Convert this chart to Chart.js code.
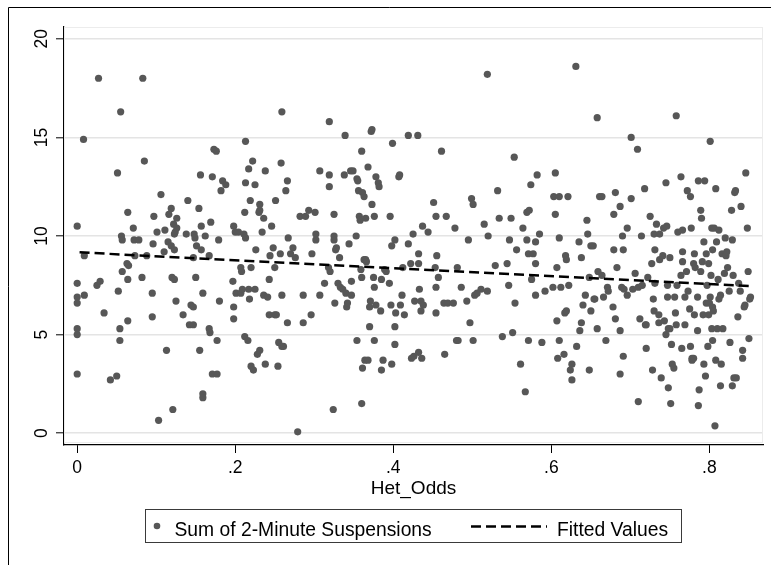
<!DOCTYPE html>
<html lang="en">
<head>
<meta charset="utf-8">
<title>Het_Odds</title>
<script src="https://cdn.jsdelivr.net/npm/chart.js@4.4.1/dist/chart.umd.min.js"></script>
<style>
  html, body { margin: 0; padding: 0; background: #fff; }
  #wrap { position: relative; width: 771px; height: 565px; }
</style>
</head>
<body>
<div id="wrap"><canvas id="scatterChart" width="771" height="565"></canvas></div>
<script>
// Het_Odds (x) for each observation
const hetOdds = [
    0.000, 0.008, 0.027, 0.000, 0.000, 0.000, 0.000, 0.000, 0.000, 0.009, 0.009, 0.025, 0.029, 0.034, 0.042,
    0.050, 0.051, 0.052, 0.054, 0.054, 0.055, 0.056, 0.057, 0.057, 0.063, 0.064, 0.064, 0.064, 0.065,
    0.071, 0.072, 0.078, 0.073, 0.082, 0.083, 0.085, 0.088, 0.095, 0.095, 0.096, 0.097, 0.101, 0.103, 0.106,
    0.110, 0.111, 0.113, 0.115, 0.116, 0.119, 0.119, 0.120, 0.121, 0.122, 0.123, 0.123, 0.123, 0.124, 0.125,
    0.126, 0.126, 0.134, 0.138, 0.140, 0.142, 0.144, 0.147, 0.147, 0.147, 0.148, 0.149, 0.150, 0.151,
    0.154, 0.155, 0.156, 0.157, 0.157, 0.159, 0.159, 0.159, 0.162, 0.167, 0.167, 0.168, 0.169, 0.171, 0.171,
    0.173, 0.176, 0.177, 0.177, 0.179, 0.180, 0.182, 0.184, 0.188, 0.197, 0.198, 0.198, 0.198, 0.200, 0.201,
    0.204, 0.207, 0.207, 0.208, 0.209, 0.211, 0.212, 0.212, 0.213, 0.213, 0.213, 0.216, 0.217, 0.217, 0.218,
    0.219, 0.220, 0.220, 0.222, 0.223, 0.225, 0.225, 0.226, 0.228, 0.230, 0.231, 0.231, 0.231, 0.234, 0.236,
    0.236, 0.238, 0.238,
    0.241, 0.243, 0.243, 0.244, 0.246, 0.248, 0.250, 0.250, 0.251, 0.252, 0.254, 0.255, 0.257, 0.258, 0.259,
    0.259, 0.259, 0.261, 0.264, 0.266, 0.266, 0.267, 0.270, 0.273, 0.276, 0.279, 0.282, 0.286, 0.286, 0.289,
    0.293, 0.296, 0.297, 0.301, 0.302, 0.302, 0.307, 0.307, 0.313, 0.318, 0.319, 0.319, 0.319, 0.320, 0.324,
    0.325, 0.325, 0.325,
    0.326, 0.327, 0.328, 0.330, 0.332, 0.333, 0.336, 0.338, 0.339, 0.340, 0.341, 0.342, 0.344, 0.346, 0.347,
    0.347, 0.349, 0.353, 0.354, 0.354, 0.355, 0.356, 0.357, 0.358, 0.359, 0.360, 0.360, 0.360, 0.361, 0.361,
    0.363, 0.363, 0.364, 0.365, 0.365, 0.366, 0.368, 0.368, 0.370, 0.370, 0.371, 0.372, 0.373, 0.373, 0.375,
    0.376, 0.376, 0.376, 0.378, 0.378, 0.381, 0.382, 0.384, 0.385, 0.385, 0.387, 0.389, 0.391, 0.395, 0.396,
    0.397, 0.398, 0.398, 0.399, 0.402, 0.402, 0.402, 0.403, 0.407, 0.408, 0.409, 0.411, 0.412,
    0.414, 0.419, 0.419, 0.422, 0.423, 0.425, 0.426, 0.427, 0.431, 0.432, 0.432, 0.432, 0.433, 0.435, 0.435,
    0.436, 0.437, 0.438, 0.444, 0.451, 0.453, 0.454, 0.454, 0.454, 0.455, 0.457, 0.461, 0.464, 0.465, 0.467,
    0.469, 0.476, 0.478, 0.481, 0.480, 0.482, 0.486, 0.493, 0.495, 0.497, 0.499, 0.501, 0.501,
    0.503, 0.506, 0.511, 0.515, 0.519, 0.520, 0.519, 0.529, 0.532, 0.534, 0.538, 0.544, 0.546, 0.547, 0.549,
    0.551, 0.553, 0.554, 0.556, 0.561, 0.564, 0.567, 0.569, 0.569, 0.571, 0.571, 0.572, 0.574, 0.575, 0.577,
    0.580, 0.580, 0.580, 0.582, 0.585, 0.588, 0.592,
    0.602, 0.603, 0.605, 0.605, 0.607, 0.607, 0.608, 0.610, 0.610, 0.610, 0.612, 0.616, 0.617, 0.618, 0.619,
    0.619, 0.621, 0.622, 0.624, 0.626, 0.626, 0.631, 0.632, 0.635, 0.636, 0.638, 0.638, 0.640, 0.643, 0.645,
    0.646, 0.648, 0.648, 0.650, 0.650, 0.653, 0.654, 0.655, 0.658, 0.658, 0.659, 0.661, 0.664, 0.664, 0.666,
    0.669, 0.671, 0.672,
    0.678, 0.679, 0.679, 0.681, 0.681, 0.683, 0.687, 0.687, 0.687, 0.689, 0.690, 0.691, 0.691, 0.692, 0.696,
    0.696, 0.701, 0.701, 0.703, 0.706, 0.709, 0.710, 0.710, 0.712, 0.714, 0.715, 0.718, 0.719, 0.720, 0.720,
    0.722, 0.725, 0.727, 0.728, 0.729, 0.730, 0.730, 0.731, 0.731, 0.733, 0.736, 0.736, 0.737, 0.737, 0.739,
    0.741, 0.742, 0.743, 0.745, 0.745, 0.746, 0.747, 0.747, 0.748, 0.748, 0.750, 0.750, 0.751, 0.752, 0.753,
    0.755, 0.756, 0.757, 0.758, 0.758, 0.759, 0.760,
    0.764, 0.764, 0.765, 0.766, 0.766, 0.766, 0.769, 0.769, 0.771, 0.772, 0.773, 0.775, 0.776, 0.776, 0.777,
    0.778, 0.778, 0.780, 0.780, 0.781, 0.781, 0.782, 0.785, 0.785, 0.786, 0.786, 0.787, 0.789, 0.789, 0.790,
    0.791, 0.792, 0.793, 0.793, 0.794, 0.795, 0.796, 0.796, 0.797, 0.798, 0.799, 0.799, 0.800, 0.801, 0.801,
    0.802, 0.803, 0.803, 0.804, 0.804, 0.804, 0.805, 0.806, 0.807, 0.808, 0.808, 0.809, 0.810, 0.811, 0.812,
    0.812, 0.814, 0.814, 0.815, 0.816, 0.817, 0.819, 0.820, 0.821, 0.822, 0.823, 0.825, 0.826, 0.828, 0.829,
    0.829, 0.830, 0.831, 0.832, 0.833, 0.834, 0.836, 0.837, 0.839, 0.840, 0.842, 0.842, 0.844, 0.845, 0.846,
    0.848, 0.849, 0.850, 0.851, 0.852
];

// Sum of 2-Minute Suspensions (y), same order as hetOdds
const suspensions = [
    10.5, 14.9, 18.0, 7.6, 6.9, 6.6, 5.3, 5.0, 3.0, 9.0, 7.0, 7.5, 7.7, 6.1, 2.7,
    2.9, 13.2, 7.2, 5.3, 4.7, 16.3, 10.0, 9.8, 8.2, 8.6, 11.2, 7.8, 5.7, 8.5,
    10.4, 9.8, 9.8, 9.0, 7.9, 18.0, 13.8, 9.0, 7.1, 5.9, 9.6, 11.0, 10.2, 0.65, 12.1,
    9.2, 10.3, 4.2, 9.7, 11.1, 11.4, 9.5, 7.9, 1.2, 10.6, 9.3, 10.1, 7.8, 10.2, 6.7,
    10.9, 10.4, 6.0, 10.1, 11.8, 5.5, 6.5, 8.9, 5.5, 6.4, 10.1, 9.9, 7.9, 9.5,
    11.4, 4.2, 13.1, 9.3, 10.5, 2.0, 1.8, 7.1, 10.0, 9.0, 5.3, 5.1, 10.7, 13.0, 3.0,
    14.4, 14.3, 3.0, 4.7, 9.8, 6.7, 12.3, 12.8, 12.6, 7.7, 5.8, 6.4, 10.5, 10.2, 7.1,
    10.2, 8.4, 7.1, 8.2, 7.3, 10.1, 4.9, 11.2, 12.7, 14.8, 9.9, 4.7, 7.3, 13.4, 6.8,
    11.8, 3.4, 8.4, 13.8, 3.2, 12.6, 7.3, 9.3, 4.0, 11.2, 4.2, 11.6, 11.3, 10.2, 10.9,
    7.0, 13.3, 3.5,
    6.9, 7.8, 6.0, 9.0, 10.5, 9.4, 8.4, 6.0, 11.8, 6.0, 3.4, 4.6, 9.1, 13.7, 16.3,
    4.4, 7.0, 4.4, 12.3, 12.8, 5.6, 9.9, 9.1, 9.4, 8.9, 0.07, 11.0, 5.6, 7.0, 11.0,
    11.3, 6.0, 9.1, 11.2, 9.8, 10.1, 7.0, 13.3, 7.6, 8.4, 13.1, 12.5, 15.8, 8.2, 1.2,
    9.8, 11.1, 10.0,
    6.6, 9.3, 9.4, 7.6, 8.9, 7.4, 7.3, 13.1, 15.1, 7.1, 6.4, 6.6, 9.6, 13.3, 7.0,
    7.7, 13.3, 10.0, 12.9, 4.7, 12.8, 12.3, 11.0, 10.8, 8.3, 7.9, 1.5, 14.3, 3.3, 12.2,
    8.8, 12.0, 3.7, 8.8, 10.9, 8.7, 13.5, 3.7, 6.4, 5.4, 6.7, 15.3, 11.6, 15.4, 7.9,
    4.7, 11.0, 7.4, 13.0, 6.5, 12.7, 12.5, 6.2, 7.8, 3.2, 3.7, 8.3, 8.2, 7.6, 11.0,
    6.5, 3.5, 9.5, 14.7, 9.8, 4.5, 5.4, 6.1, 13.0, 13.1, 6.5, 7.0, 8.4,
    6.0, 9.6, 15.1, 8.6, 3.8, 10.1, 3.9, 6.7, 15.1, 4.1, 8.6, 9.1, 7.3, 6.2, 6.7,
    3.8, 10.5, 6.5, 10.2, 11.7, 8.4, 7.4, 11.0, 6.1, 9.0, 7.9, 14.3, 6.6, 4.0, 11.0,
    6.6, 6.6, 10.4, 8.4, 4.7, 4.7, 7.4, 6.7, 9.8, 5.6, 11.9, 11.6, 4.7,
    7.0, 7.1, 7.3, 10.6, 7.2, 10.0, 18.2, 8.5, 12.3, 10.9, 4.9, 8.6, 7.5, 9.8, 10.9,
    5.1, 14.0, 6.6, 9.3, 3.5, 10.4, 2.1, 9.8, 11.2, 4.7, 9.1, 11.3, 12.6, 7.8, 9.1,
    7.0, 9.7, 8.6, 13.1, 10.1, 4.6, 7.2,
    7.4, 12.0, 13.2, 11.1, 5.7, 8.4, 3.8, 4.7, 12.0, 9.9, 7.4, 4.0, 6.1, 9.0, 8.8,
    6.2, 12.0, 7.5, 3.2, 3.5, 2.7, 18.6, 4.4, 9.7, 5.2, 8.9, 5.6, 6.5, 7.0, 10.8,
    10.1, 3.2, 7.9, 6.2, 9.5, 9.5, 6.8, 6.8, 16.0, 5.3, 8.2, 12.0, 12.0, 8.0, 6.9,
    4.7, 7.4, 7.2,
    6.4, 9.3, 11.1, 12.2, 5.8, 8.4, 11.5, 3.0, 5.2, 7.4, 10.0, 3.9, 9.3, 7.3, 10.4,
    7.0, 15.0, 11.9, 7.3, 8.1, 14.4, 1.6, 7.4, 5.8, 10.0, 7.5, 12.4, 5.5, 4.3, 5.5,
    7.9, 11.0, 8.6, 3.2, 6.8, 10.1, 6.2, 9.3, 7.6, 10.6, 5.6, 6.0, 10.1, 8.8, 2.8,
    9.0, 10.4, 5.7, 12.7, 5.0, 10.5, 6.9, 7.5, 2.3, 5.3, 5.3, 8.9, 1.5, 4.5, 3.5,
    3.3, 6.9, 6.1, 16.1, 5.5, 7.5, 10.2,
    13.0, 8.0, 4.3, 10.3, 9.2, 8.7, 5.5, 6.9, 8.2, 12.3, 7.2, 6.3, 12.0, 4.4, 10.4,
    3.7, 3.8, 3.8, 8.6, 6.0, 9.1, 8.4, 5.2, 6.9, 12.8, 1.4, 2.2, 8.2, 11.3, 10.9,
    8.7, 6.0, 3.5, 9.7, 12.8, 2.9, 9.1, 6.6, 7.5, 4.4, 6.0, 8.6, 6.6, 14.8, 6.9,
    8.0, 5.3, 10.4, 4.7, 6.4, 9.3, 6.2, 10.4, 0.37, 12.4, 3.7, 9.7, 5.3, 7.8, 6.8,
    10.3, 7.0, 2.4, 3.5, 9.1, 5.3, 8.1, 9.9, 9.0, 9.2, 8.4, 7.2, 4.6, 11.3, 2.4,
    9.8, 8.0, 2.8, 12.2, 12.3, 2.8, 5.9, 7.6, 7.2, 11.5, 4.2, 3.8, 6.4, 6.5, 13.2,
    10.4, 8.2, 4.8, 6.8, 6.9
];

// Linear fit: end points over the observed Het_Odds range
const fitX = [0.003, 0.855];
const fitY = [9.17, 7.45];

// Axis ticks and texts
const xTicks = [0, 0.2, 0.4, 0.6, 0.8];
const yTicks = [0, 5, 10, 15, 20];
const xTitle = 'Het_Odds';
const seriesLabels = ['Sum of 2-Minute Suspensions', 'Fitted Values'];

const FONT = '"Liberation Sans", Arial, Helvetica, sans-serif';
const MARKER = '#575757';

// 0.2 -> ".2", 0 -> "0"
function fmtTick(v) {
    return v === 0 ? '0' : String(+Number(v).toFixed(1)).replace(/^0\./, '.');
}

// Frame, plot region outline, rotated y labels and the boxed legend
const stataLook = {
    id: 'stataLook',
    beforeDraw(chart) {
        const ctx = chart.ctx;
        ctx.save();
        ctx.fillStyle = '#fff';
        ctx.fillRect(0, 0, chart.width, chart.height);
        // outer graph frame
        ctx.strokeStyle = '#000';
        ctx.lineWidth = 1;
        ctx.beginPath();
        ctx.moveTo(8.5, chart.height);
        ctx.lineTo(8.5, 7.5);
        ctx.lineTo(chart.width, 7.5);
        ctx.stroke();
        ctx.restore();
    },
    beforeDatasetsDraw(chart) {
        const {ctx, chartArea: a} = chart;
        ctx.save();
        ctx.strokeStyle = '#ececec';
        ctx.lineWidth = 1;
        ctx.strokeRect(a.left + 0.5, a.top + 0.5, a.right - a.left - 1, a.bottom - a.top - 3);
        ctx.restore();
    },
    afterDraw(chart) {
        const ctx = chart.ctx;
        const yScale = chart.scales.y;

        // y tick labels, reading bottom to top
        ctx.save();
        ctx.font = `17.5px ${FONT}`;
        ctx.fillStyle = '#000';
        ctx.textAlign = 'center';
        ctx.textBaseline = 'middle';
        yScale.ticks.forEach(t => {
            const py = yScale.getPixelForValue(t.value);
            ctx.save();
            ctx.translate(41.7, py);
            ctx.rotate(-Math.PI / 2);
            ctx.fillText(fmtTick(t.value), 0, 0);
            ctx.restore();
        });
        ctx.restore();

        // legend box
        const pts = chart.data.datasets[1];
        const fit = chart.data.datasets[0];
        ctx.save();
        ctx.strokeStyle = '#3a3a3a';
        ctx.lineWidth = 1;
        ctx.strokeRect(145.5, 509.5, 536, 33);

        ctx.fillStyle = pts.backgroundColor;
        ctx.beginPath();
        ctx.arc(157, 526, 3.3, 0, Math.PI * 2);
        ctx.fill();

        ctx.strokeStyle = fit.borderColor;
        ctx.lineWidth = fit.borderWidth;
        ctx.setLineDash(fit.borderDash);
        ctx.beginPath();
        ctx.moveTo(471, 526.5);
        ctx.lineTo(547, 526.5);
        ctx.stroke();
        ctx.setLineDash([]);

        ctx.font = `19.3px ${FONT}`;
        ctx.fillStyle = '#000';
        ctx.textAlign = 'left';
        ctx.textBaseline = 'alphabetic';
        ctx.fillText(pts.label, 174.5, 535.5);
        ctx.fillText(fit.label, 557, 535.5);
        ctx.restore();
    }
};

const points = hetOdds.map((x, i) => ({ x: x, y: suspensions[i] }));
const fitLine = fitX.map((x, i) => ({ x: x, y: fitY[i] }));

const ctx = document.getElementById('scatterChart').getContext('2d');

new Chart(ctx, {
    type: 'scatter',
    data: {
        datasets: [
            {
                type: 'line',
                label: seriesLabels[1],
                data: fitLine,
                borderColor: '#000',
                borderWidth: 2.5,
                borderDash: [10, 5],
                pointRadius: 0,
                fill: false,
                order: 0
            },
            {
                label: seriesLabels[0],
                data: points,
                backgroundColor: MARKER,
                borderColor: MARKER,
                borderWidth: 0,
                pointRadius: 3.6,
                pointHoverRadius: 3.6,
                order: 1
            }
        ]
    },
    options: {
        responsive: false,
        animation: false,
        devicePixelRatio: 1,
        layout: {
            padding: { left: 0, top: 27, right: 8, bottom: 65 }
        },
        plugins: {
            legend: { display: false },
            tooltip: { enabled: false }
        },
        scales: {
            x: {
                type: 'linear',
                min: -0.0167,
                max: 0.8678,
                afterBuildTicks: (axis) => { axis.ticks = xTicks.map(v => ({ value: v })); },
                afterFit: (axis) => { axis.height = 55; },
                grid: {
                    drawOnChartArea: false,
                    drawTicks: true,
                    tickLength: 8,
                    tickColor: '#000',
                    tickWidth: 1
                },
                border: { display: true, color: '#000', width: 1.2 },
                ticks: {
                    color: '#000',
                    padding: 5,
                    maxRotation: 0,
                    autoSkip: false,
                    font: { family: FONT, size: 17.5 },
                    callback: (v) => fmtTick(v)
                },
                title: {
                    display: true,
                    text: xTitle,
                    color: '#000',
                    padding: 0,
                    font: { family: FONT, size: 19 }
                }
            },
            y: {
                type: 'linear',
                min: -0.6,
                max: 20.6,
                afterBuildTicks: (axis) => { axis.ticks = yTicks.map(v => ({ value: v })); },
                afterFit: (axis) => { axis.width = 64; },
                grid: {
                    color: '#e4e4e4',
                    lineWidth: 1.6,
                    drawTicks: true,
                    tickLength: 8,
                    tickColor: '#000',
                    tickWidth: 1
                },
                border: { display: true, color: '#000', width: 1.2 },
                ticks: { display: false }
            }
        }
    },
    plugins: [stataLook]
});
</script>
</body>
</html>
